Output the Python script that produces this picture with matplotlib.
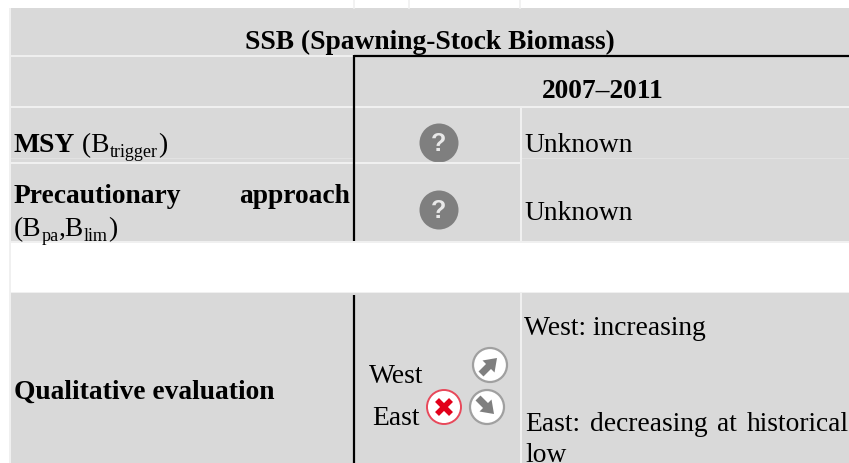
import matplotlib
matplotlib.use('Agg')
import matplotlib.pyplot as plt
from matplotlib.patches import Rectangle, Circle, FancyArrow

title = 'SSB (Spawning-Stock Biomass)'
period = '2007–2011'
status_msy = 'Unknown'
status_pa = 'Unknown'
row_msy = 'MSY'
row_pa_words = ['Precautionary', 'approach']
row_qual = 'Qualitative evaluation'
west_label = 'West'
east_label = 'East'
west_text = 'West: increasing'
east_words = ['East:', 'decreasing', 'at', 'historical']
east_last = 'low'

GREY = '#d9d9d9'
LINE = '#f0f0f0'
ICON = '#7f7f7f'
RED = '#e2001a'
FS = 19.8
plt.rcParams['font.family'] = ['Liberation Serif', 'DejaVu Serif']

fig = plt.figure(figsize=(8.49, 4.63), dpi=100)
ax = fig.add_axes([0, 0, 1, 1])
ax.set_xlim(0, 849)
ax.set_ylim(463, 0)
ax.axis('off')


def text(x, y, s, size=FS, bold=False, ha='left'):
    return ax.text(x, y, s, fontsize=size, fontweight='bold' if bold else 'normal',
                   ha=ha, va='baseline', color='black')


def rich(x, y, parts):
    # parts: (string, bold, subscript), each placed after the one before
    r = fig.canvas.get_renderer()
    for s, bold, sub in parts:
        t = text(x, y + (5 if sub else 0), s, size=FS * 0.66 if sub else FS, bold=bold)
        x = t.get_window_extent(r).x1


# light frame behind the grey blocks
ax.add_patch(Rectangle((9, 8), 840, 455, fc=LINE, ec='none'))
ax.add_patch(Rectangle((11, 243), 838, 49, fc='white', ec='none'))

# grey blocks, top to bottom
for y0, y1 in [(8, 241), (293, 463)]:
    ax.add_patch(Rectangle((11, y0), 838, y1 - y0, fc=GREY, ec='none'))

# thin light cell borders
for x in [354, 409, 520]:
    ax.plot([x, x], [0, 8], color=LINE, lw=1.2)
ax.plot([11, 354], [56, 56], color=LINE, lw=1.4)
ax.plot([11, 849], [107, 107], color=LINE, lw=1.5)
ax.plot([11, 520], [162.7, 162.7], color=LINE, lw=1.5)
ax.plot([11, 354], [158, 158], color='#e2e2e2', lw=0.8)
ax.plot([522, 849], [158, 158], color='#e2e2e2', lw=0.8)
ax.plot([521, 521], [107, 241], color=LINE, lw=1.5)
ax.plot([521, 521], [293, 463], color=LINE, lw=1.5)

# black rules
ax.plot([354, 849], [56, 56], color='black', lw=1.6, solid_capstyle='butt')
ax.plot([354.5, 354.5], [55, 241], color='black', lw=1.6, solid_capstyle='butt')
ax.plot([354.5, 354.5], [295, 463], color='black', lw=1.6, solid_capstyle='butt')

text(430, 49, title, bold=True, ha='center')
text(602.5, 98, period, bold=True, ha='center')

rich(14, 152, [(row_msy, True, False), (' (B', False, False), ('trigger', False, True), (')', False, False)])
text(14, 203, row_pa_words[0], bold=True)
text(350, 203, row_pa_words[1], bold=True, ha='right')
rich(14, 236, [('(B', False, False), ('pa', False, True), (',B', False, False), ('lim', False, True), (')', False, False)])
text(14, 399, row_qual, bold=True)

text(524, 152, status_msy)
text(524, 220, status_pa)
text(524, 335, west_text)

# justified line in the last cell
xs = [525, 590, 717, 747]
for x, w in zip(xs, east_words):
    text(x, 431, w)
text(525, 462, east_last)

text(369, 383, west_label)
text(372, 425, east_label)

# unknown icons
for yc in [143, 210]:
    ax.add_patch(Circle((439, yc), 19.5, fc=ICON, ec='none'))
    ax.text(439, yc + 8, '?', fontsize=18, fontweight='bold', color='#e8e8e8',
            ha='center', va='baseline', family=['Liberation Sans', 'DejaVu Sans'])

# trend icons
ax.add_patch(Circle((490, 365), 17, fc='white', ec='#a0a0a0', lw=1.6))
ax.add_patch(FancyArrow(481, 374, 16, -16, width=7, head_width=17, head_length=12,
                        length_includes_head=True, fc=ICON, ec='none'))
ax.add_patch(Circle((487, 407), 17, fc='white', ec='#a0a0a0', lw=1.6))
ax.add_patch(FancyArrow(478, 398, 16, 16, width=7, head_width=17, head_length=12,
                        length_includes_head=True, fc=ICON, ec='none'))

# red cross icon
ax.add_patch(Circle((444, 407), 17, fc='white', ec='#e8485a', lw=1.4))
ax.plot([437, 451], [400, 414], color=RED, lw=4, solid_capstyle='butt')
ax.plot([437, 451], [414, 400], color=RED, lw=4, solid_capstyle='butt')

fig.savefig('out.png', dpi=100, facecolor='white')
